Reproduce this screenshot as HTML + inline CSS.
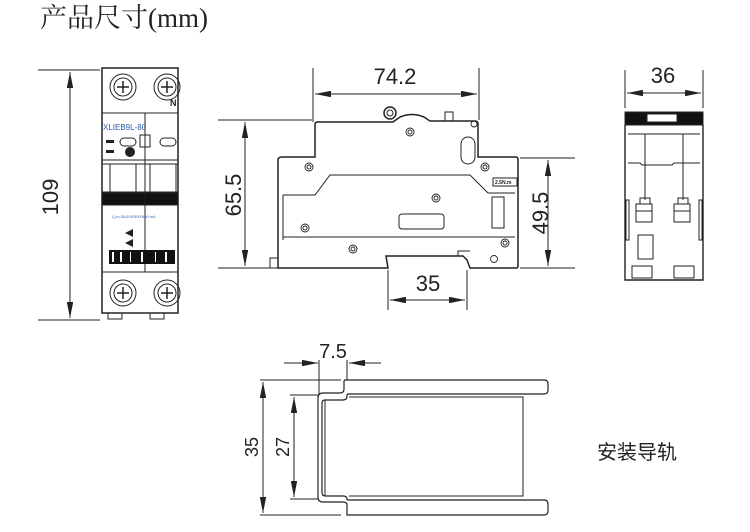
<!DOCTYPE html>
<html><head><meta charset="utf-8"><style>
html,body{margin:0;padding:0;background:#fff;width:750px;height:532px;overflow:hidden}
svg{display:block}
.t{font-family:"Liberation Sans",sans-serif;fill:#222}
</style></head><body>
<svg width="750" height="532" viewBox="0 0 750 532" xmlns="http://www.w3.org/2000/svg">
<defs>
<marker id="a" viewBox="0 0 10 4" refX="10" refY="2" markerWidth="16" markerHeight="6.4" markerUnits="userSpaceOnUse" orient="auto-start-reverse"><path d="M0,0 L10,2 L0,4 Z" fill="#222"/></marker>
</defs>
<text x="40" y="27" font-family="'Liberation Serif','Noto Serif CJK SC',serif" font-size="27" fill="#222">产品尺寸(mm)</text>

<!-- FRONT VIEW -->
<g stroke="#222" fill="none" stroke-width="1">
<line x1="38" y1="70" x2="100" y2="70"/><line x1="38" y1="320" x2="100" y2="320"/>
<line x1="70" y1="72" x2="70" y2="318" marker-start="url(#a)" marker-end="url(#a)"/>
<rect x="102" y="68" width="76" height="245" stroke-width="1.5"/>
<line x1="102" y1="113" x2="178" y2="113"/>
<line x1="102" y1="160" x2="178" y2="160"/>
<line x1="102" y1="164" x2="178" y2="164"/>
<line x1="102" y1="192" x2="178" y2="192"/>
<rect x="102" y="193" width="76" height="12" fill="#111"/>
<line x1="102" y1="272" x2="178" y2="272"/>
<line x1="145" y1="113" x2="145" y2="272"/>
<rect x="110" y="164" width="26" height="28"/><rect x="150" y="164" width="26" height="28"/>
<circle cx="123" cy="87" r="13"/><circle cx="123" cy="87" r="9"/><circle cx="167" cy="87" r="13"/><circle cx="167" cy="87" r="9"/>
<circle cx="123" cy="293" r="13"/><circle cx="123" cy="293" r="9"/><circle cx="167" cy="293" r="13"/><circle cx="167" cy="293" r="9"/>
<path stroke-width="1.5" d="M117,87h12M123,81v12M161,87h12M167,81v12M117,293h12M123,287v12M161,293h12M167,287v12"/>
<rect x="120" y="138" width="16" height="8" rx="4"/><rect x="160" y="138" width="16" height="8" rx="4"/>
<rect x="140" y="135" width="10" height="12"/>
<path d="M108,313v6h14v-6M150,313v6h14v-6"/>
</g>
<rect x="109" y="250" width="66" height="14" fill="#111"/>
<rect x="112" y="252" width="2" height="10" fill="#fff"/><rect x="120" y="252" width="2" height="10" fill="#fff"/><rect x="130" y="252" width="1" height="10" fill="#fff"/><rect x="141" y="252" width="2" height="10" fill="#fff"/><rect x="155" y="252" width="1" height="10" fill="#fff"/><rect x="165" y="252" width="2" height="10" fill="#fff"/>
<text x="103" y="130" font-family="Liberation Sans" font-size="8" fill="#2a5db0">XLIEB9L-80</text>
<text x="170" y="106" font-family="Liberation Sans" font-size="9" font-weight="bold" fill="#222">N</text>
<circle cx="130" cy="152" r="5" fill="#222"/>
<rect x="106" y="140" width="8" height="3" fill="#222"/><rect x="106" y="150" width="8" height="3" fill="#222"/>
<text x="112" y="218" font-family="Liberation Sans" font-size="4" fill="#2a5db0">I△n=30/100/300/500 mA</text>
<path d="M125,233 l8,-4 v8 z M125,243 l8,-4 v8z" fill="#222"/>
<text class="t" x="52" y="195" font-size="22" transform="rotate(-90 56 193)" text-anchor="middle">109</text>

<!-- SIDE VIEW -->
<g stroke="#222" fill="none" stroke-width="1">
<line x1="313" y1="68" x2="313" y2="122"/><line x1="479" y1="68" x2="479" y2="120"/>
<line x1="315" y1="94" x2="477" y2="94" marker-start="url(#a)" marker-end="url(#a)"/>
<line x1="218" y1="120" x2="312" y2="120"/><line x1="218" y1="268" x2="276" y2="268"/>
<line x1="245" y1="122" x2="245" y2="266" marker-start="url(#a)" marker-end="url(#a)"/>
<line x1="520" y1="158" x2="575" y2="158"/><line x1="520" y1="268" x2="575" y2="268"/>
<line x1="548" y1="160" x2="548" y2="266" marker-start="url(#a)" marker-end="url(#a)"/>
<line x1="388" y1="270" x2="388" y2="310"/><line x1="467" y1="270" x2="467" y2="310"/>
<line x1="390" y1="300" x2="465" y2="300" marker-start="url(#a)" marker-end="url(#a)"/>
<path stroke-width="1.5" d="M278,268 V160 Q278,157 282,157 H315 V124 Q315,122 318,122 H393 L400,117 Q412,112 424,117 L430,121 H475 Q478,121 478,124 V157 H516 Q518,157 518,160 V266 Q518,268 516,268 H470 L467,260 L463,256 L386,256 L388,268 Z"/>
<path d="M283,195 H315 L330,175 H470 L488,193 H515 M283,195 V240 M283,237 H515"/>
<rect x="399" y="214" width="45" height="15" rx="3"/>
<rect x="492" y="197" width="12" height="31"/>
<rect x="461" y="137" width="14" height="27" rx="7"/>
<rect x="445" y="112" width="8" height="9"/>
<circle cx="390" cy="113" r="6" stroke-width="1.5"/><circle cx="390" cy="113" r="3"/>
<path d="M470,251 L458,251 L458,256"/>
<path d="M270,258 h8 v10 h-8z"/>
<rect x="493" y="178" width="24" height="8" fill="#fff"/>
</g>
<g stroke="#222" fill="none" stroke-width="0.9">
<circle cx="410" cy="132" r="4"/><circle cx="410" cy="132" r="2"/>
<circle cx="309" cy="167" r="4"/><circle cx="309" cy="167" r="2"/>
<circle cx="485" cy="167" r="4"/><circle cx="485" cy="167" r="2"/>
<circle cx="436" cy="198" r="4"/><circle cx="436" cy="198" r="2"/>
<circle cx="305" cy="228" r="4"/><circle cx="305" cy="228" r="2"/>
<circle cx="353" cy="249" r="4"/><circle cx="353" cy="249" r="2"/>
<circle cx="505" cy="243" r="4"/><circle cx="505" cy="243" r="2"/>
<circle cx="494" cy="259" r="3.5"/>
<circle cx="474" cy="124" r="3"/>
</g>
<text x="495" y="184" font-family="Liberation Sans" font-size="5" font-weight="bold" fill="#222">2.5N.m</text>
<text class="t" x="395" y="84" font-size="22" text-anchor="middle">74.2</text>
<text class="t" x="428" y="291" font-size="22" text-anchor="middle">35</text>
<text class="t" x="233" y="195" font-size="22" text-anchor="middle" transform="rotate(-90 233 195)" dy="8">65.5</text>
<text class="t" x="540" y="213" font-size="22" text-anchor="middle" transform="rotate(-90 540 213)" dy="8">49.5</text>

<!-- RIGHT VIEW -->
<g stroke="#222" fill="none" stroke-width="1">
<line x1="625" y1="70" x2="625" y2="108"/><line x1="703" y1="70" x2="703" y2="108"/>
<line x1="627" y1="93" x2="701" y2="93" marker-start="url(#a)" marker-end="url(#a)"/>
<rect x="625" y="112" width="78" height="13" fill="#111"/>
<rect x="647" y="114" width="30" height="8" fill="#fff"/>
<path stroke-width="1.4" d="M625,125 V280 H703 V125"/>
<line x1="628" y1="134" x2="700" y2="134"/>
<path d="M628,163 H640 l2,2 h30 l2,-2 h26"/>
<line x1="645" y1="134" x2="645" y2="200"/><line x1="683" y1="134" x2="683" y2="200"/>
<rect x="640" y="198" width="10" height="6"/><rect x="678" y="198" width="10" height="6"/>
<rect x="636" y="204" width="16" height="18"/><rect x="674" y="204" width="16" height="18"/>
<line x1="636" y1="211" x2="652" y2="211"/><line x1="674" y1="211" x2="690" y2="211"/>
<rect x="638" y="235" width="15" height="24"/>
<path d="M632,266 h20 v12 h-20z M674,266 h20 v12 h-20z"/>
<rect x="626" y="200" width="3" height="40"/><rect x="699" y="200" width="3" height="40"/>
</g>
<text class="t" x="663" y="83" font-size="22" text-anchor="middle">36</text>

<!-- RAIL -->
<g stroke="#222" fill="none" stroke-width="1">
<line x1="284" y1="363" x2="318" y2="363" marker-end="url(#a)"/><line x1="381" y1="363" x2="349" y2="363" marker-end="url(#a)"/>
<line x1="319" y1="360" x2="319" y2="395"/><line x1="347" y1="360" x2="347" y2="380"/>
<line x1="260" y1="380" x2="341" y2="380"/><line x1="260" y1="515" x2="341" y2="515"/>
<line x1="263" y1="382" x2="263" y2="513" marker-start="url(#a)" marker-end="url(#a)"/>
<line x1="290" y1="395" x2="318" y2="395"/><line x1="290" y1="499" x2="318" y2="499"/>
<line x1="294" y1="397" x2="294" y2="497" marker-start="url(#a)" marker-end="url(#a)"/>
<path stroke-width="1.2" d="M345,380 H544 Q548,380 548,384 V390 Q548,394 544,394 H348 Q347,394 347,396 Q347,400 343,400 H325 Q322,400 322,403 V492 Q322,496 325,496 H343 Q347,496 347,499 Q347,500 349,500 H544 Q548,500 548,504 V511 Q548,515 544,515 H347 V505 Q347,502 343,502 H323 Q318,502 318,497 V398 Q318,393 323,393 H340 Q344,393 344,389 V382 Q344,380 345,380 Z"/>
<path d="M325,400 V496 M349,397 H523 V496 H349"/>
</g>
<text class="t" x="252" y="447" font-size="18" text-anchor="middle" transform="rotate(-90 252 447)" dy="6">35</text>
<text class="t" x="283" y="447" font-size="18" text-anchor="middle" transform="rotate(-90 283 447)" dy="6">27</text>
<text class="t" x="333" y="358" font-size="20" text-anchor="middle">7.5</text>
<text x="597" y="459" font-family="'Noto Sans CJK SC',sans-serif" font-size="20" fill="#222">安装导轨</text>
</svg>
</body></html>
